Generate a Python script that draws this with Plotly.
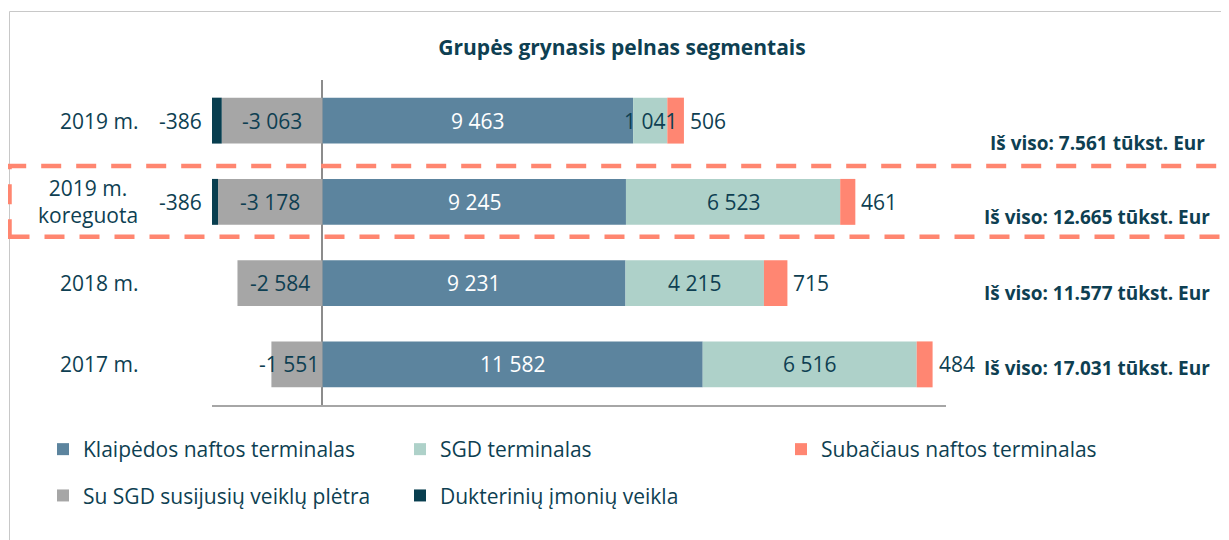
import plotly.graph_objects as go

# ---------------- data ----------------
categories = ["2019 m.", "2019 m.<br>koreguota", "2018 m.", "2017 m."]
klaipedos = [9463, 9245, 9231, 11582]
sgd = [1041, 6523, 4215, 6516]
subaciaus = [506, 461, 715, 484]
su_sgd = [-3063, -3178, -2584, -1551]
dukteriniu = [-386, -386, None, None]

series_names = [
    "Klaipėdos naftos terminalas",
    "SGD terminalas",
    "Subačiaus naftos terminalas",
    "Su SGD susijusių veiklų plėtra",
    "Dukterinių įmonių veikla",
]
title_text = "Grupės grynasis pelnas segmentais"

# ---------------- layout helpers ----------------
OFF = 8                      # page body margin in the browser
W, H = 1229 - OFF, 540 - OFF
# plot area in screen pixels
SL, SR, ST, SB = 212, 946, 80, 405
L, R, T, B = SL - OFF, SR - OFF, ST - OFF, SB - OFF
DARK = "#0E3F52"
FONT = "Open Sans"
XRANGE = [-3360, 18990]
PX_PER_UNIT = (SR - SL) / (XRANGE[1] - XRANGE[0])


def px2x(px):  # screen px -> paper x
    return (px - SL) / (SR - SL)


def py2y(py):  # screen px -> paper y
    return (SB - py) / (SB - ST)


def fmt(v):
    return f"{v:,}".replace(",", " ")


colors = ["#5C849E", "#AED1C9", "#FF8672", "#A6A6A6", "#083E4F"]
values = [klaipedos, sgd, subaciaus, su_sgd, dukteriniu]
legends = ["legend", "legend2", "legend3", "legend", "legend2"]

fig = go.Figure()
for name, vals, col, lg in zip(series_names, values, colors, legends):
    fig.add_trace(go.Bar(
        y=categories, x=vals, name=name, orientation="h",
        marker=dict(color=col, line=dict(width=0)),
        legend=lg, legendgroup=name, hoverinfo="skip",
    ))

annotations = []
lab_font = dict(family=FONT, size=21, color=DARK)
for i, cat in enumerate(categories):
    k, s, b, g, d = klaipedos[i], sgd[i], subaciaus[i], su_sgd[i], dukteriniu[i]
    annotations.append(dict(x=k / 2, y=cat, text=fmt(k), showarrow=False,
                            font=dict(family=FONT, size=21, color="white")))
    annotations.append(dict(x=k + s / 2, y=cat, text=fmt(s), showarrow=False, font=lab_font))
    annotations.append(dict(x=k + s + b, y=cat, text=fmt(b), showarrow=False, font=lab_font,
                            xanchor="left", xshift=4))
    # label of the negative segment: centred if it fits, else right-aligned to zero
    if abs(g) * PX_PER_UNIT >= 62:
        annotations.append(dict(x=g / 2, y=cat, text=fmt(g), showarrow=False, font=lab_font))
    else:
        annotations.append(dict(x=0, y=cat, text=fmt(g), showarrow=False, font=lab_font,
                                xanchor="right", xshift=-1))
    if d is not None:
        # the bar is clipped at the axis minimum; label sits just left of its visible start
        annotations.append(dict(x=max(g + d, XRANGE[0]), y=cat, text=fmt(d), showarrow=False,
                                font=lab_font, xanchor="right", xshift=-8))

# category labels
for cat in categories:
    annotations.append(dict(x=px2x(140), xref="paper", y=cat, yref="y", text=cat,
                            showarrow=False, xanchor="right", align="center",
                            font=dict(family=FONT, size=21, color=DARK)))

# totals
total_yshift = [-22, -15, -10, -4]
for i, cat in enumerate(categories):
    tot = klaipedos[i] + sgd[i] + subaciaus[i] + su_sgd[i] + (dukteriniu[i] or 0)
    annotations.append(dict(x=px2x(1097), xref="paper", y=cat, yref="y",
                            yshift=total_yshift[i],
                            text=f"Iš viso: {tot / 1000:.3f} tūkst. Eur",
                            showarrow=False, xanchor="center",
                            font=dict(family=FONT, size=19, color=DARK, weight="bold")))

shapes = [
    # chart-area frame (left and top edges)
    dict(type="line", xref="paper", yref="paper", x0=px2x(9.5), x1=px2x(9.5),
         y0=py2y(560), y1=py2y(11.5), line=dict(color="#C8C8C8", width=1)),
    dict(type="line", xref="paper", yref="paper", x0=px2x(9.5), x1=px2x(1240),
         y0=py2y(11.5), y1=py2y(11.5), line=dict(color="#C8C8C8", width=1)),
    # dashed highlight rectangle
    dict(type="rect", xref="paper", yref="paper", x0=px2x(9.5), x1=px2x(1260),
         y0=py2y(236.7), y1=py2y(166), fillcolor="rgba(0,0,0,0)",
         line=dict(color="#FF8670", width=4.5, dash="20px,15px")),
]

leg_common = dict(orientation="v", xanchor="left", yanchor="top", bgcolor="rgba(0,0,0,0)",
                  font=dict(family=FONT, size=21, color=DARK), tracegroupgap=16,
                  itemwidth=30, y=py2y(429))

fig.update_layout(
    width=W, height=H,
    margin=dict(l=L, r=W - R, t=T, b=H - B, pad=0),
    paper_bgcolor="white", plot_bgcolor="white",
    barmode="relative", bargap=0.435,
    font=dict(family=FONT, color=DARK),
    title=dict(text=f"<b>{title_text}</b>", x=(622 - OFF) / W, xref="container",
               xanchor="center", y=1 - (48 - OFF) / H, yref="container", yanchor="middle",
               font=dict(family=FONT, size=21, color=DARK)),
    xaxis=dict(range=XRANGE, showgrid=False, showticklabels=False, ticks="",
               zeroline=True, zerolinecolor="#8C8C8C", zerolinewidth=2,
               showline=True, linecolor="#A6A6A6", linewidth=2, fixedrange=True),
    yaxis=dict(autorange="reversed", showgrid=False, showticklabels=False, ticks="",
               zeroline=False, showline=False, fixedrange=True),
    legend=dict(leg_common, x=px2x(43)),
    legend2=dict(leg_common, x=px2x(400)),
    legend3=dict(leg_common, x=px2x(781)),
    annotations=annotations,
    shapes=shapes,
    showlegend=True,
)

fig.write_html("out.html")
